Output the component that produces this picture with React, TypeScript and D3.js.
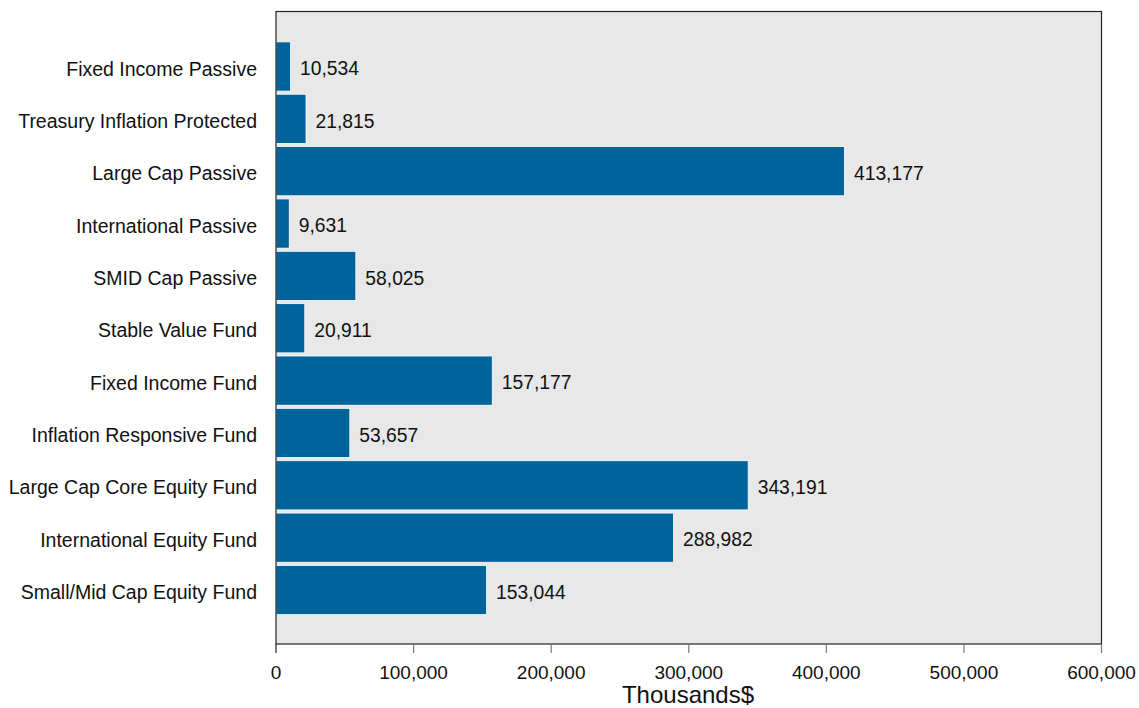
import React from "react";
import * as d3 from "d3";

const categories = [
  "Fixed Income Passive",
  "Treasury Inflation Protected",
  "Large Cap Passive",
  "International Passive",
  "SMID Cap Passive",
  "Stable Value Fund",
  "Fixed Income Fund",
  "Inflation Responsive Fund",
  "Large Cap Core Equity Fund",
  "International Equity Fund",
  "Small/Mid Cap Equity Fund",
];
const values = [10534, 21815, 413177, 9631, 58025, 20911, 157177, 53657, 343191, 288982, 153044];
const xTicks = [0, 100000, 200000, 300000, 400000, 500000, 600000];
const axisTitle = "Thousands$";

export default function App() {
  const W = 1139, H = 708;
  const left = 276, right = 1101.5, top = 11.5, bottom = 644;
  const x = d3.scaleLinear().domain([0, 600000]).range([left, right]);
  const y = d3.scaleBand<string>().domain(categories).range([40.3, 616.2]).paddingInner(0.06).paddingOuter(0.03);
  const fmt = d3.format(",");
  const font = "Liberation Sans, Arial, sans-serif";
  return (
    <svg width={W} height={H} style={{ position: "absolute", left: 0, top: 0 }} fontFamily={font}>
      <rect x={left} y={top} width={right - left} height={bottom - top} fill="#e8e8e8" />
      {categories.map((c, i) => (
        <g key={c}>
          <rect x={x(0)} y={y(c)!} width={x(values[i]) - x(0)} height={y.bandwidth()} fill="#00649c" stroke="#ffffff" strokeWidth={0.8} />
          <text x={x(values[i]) + 9.5} y={y(c)! + y.bandwidth() / 2} dy="0.45em" fontSize={19.3} fill="#111">
            {fmt(values[i])}
          </text>
          <text x={257} y={y(c)! + y.bandwidth() / 2} dy="0.47em" fontSize={19.5} textAnchor="end" fill="#111">
            {c}
          </text>
        </g>
      ))}
      <rect x={left} y={top} width={right - left} height={bottom - top} fill="none" stroke="#222" strokeWidth={1.2} />
      {xTicks.map((t) => (
        <g key={t}>
          <line x1={x(t)} x2={x(t)} y1={bottom} y2={bottom + 9} stroke={t === 0 ? "#222" : "#777"} strokeWidth={1.2} />
          <text x={x(t)} y={679} fontSize={19} textAnchor="middle" fill="#111">
            {fmt(t)}
          </text>
        </g>
      ))}
      <text x={688} y={703} fontSize={24} textAnchor="middle" fill="#111">
        {axisTitle}
      </text>
    </svg>
  );
}
